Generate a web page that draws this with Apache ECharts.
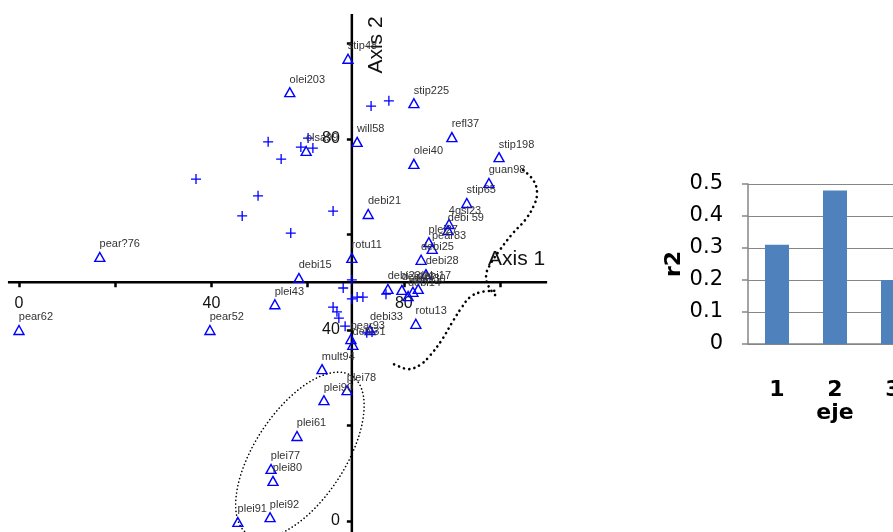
<!DOCTYPE html>
<html>
<head>
<meta charset="utf-8">
<script src="https://cdn.jsdelivr.net/npm/echarts@6/dist/echarts.min.js"></script>
<style>
html,body{margin:0;padding:0;background:#fff;}
#chart{width:893px;height:532px;}
</style>
</head>
<body>
<div id="chart"></div>
<script>
// Site scores (triangles) on ordination axes 1 and 2
const siteNames = [
  'stip48','olei203','stip225','will58','refl37','olsa99','olei40','stip198','guan98','stip65',
  'debi21','4gsl23','debi 59','plei27','pear83','debi25','debi28','pear?76','rotu11','debi15',
  'debi22','debi26','debi17','debi30','debi14','plei43','rotu13','debi33','pear62','pear52',
  'pear93','debi31','mult94','plei78','plei90','plei61','plei77','plei80','plei91','plei92'
];
const siteAxis1 = [
  68.4, 56.3, 82.1, 70.3, 90.0, 59.7, 82.1, 99.8, 97.7, 93.1,
  72.6, 89.4, 89.2, 85.2, 85.9, 83.6, 84.6, 16.8, 69.2, 58.2,
  76.7, 79.6, 83.0, 81.9, 80.9, 53.2, 82.5, 73.0, 0.0, 39.7,
  69.0, 69.4, 63.0, 68.2, 63.4, 57.8, 52.4, 52.8, 45.5, 52.2
];
const siteAxis2 = [
  96.8, 89.8, 87.5, 79.4, 80.4, 77.5, 74.8, 76.2, 70.8, 66.6,
  64.3, 62.2, 60.9, 58.4, 57.0, 54.7, 51.7, 55.3, 55.1, 50.9,
  48.6, 48.4, 48.6, 48.0, 47.1, 45.4, 41.3, 40.0, 40.0, 40.0,
  38.1, 36.9, 31.8, 27.4, 25.3, 17.8, 10.9, 8.4, -0.2, 0.8
];

// Species scores (crosses)
const sppAxis1 = [
  73.2, 76.9, 51.8, 54.5, 36.8, 49.7, 46.4, 56.5, 65.3, 60.1,
  58.6, 61.1, 69.2, 67.4, 70.3, 71.5, 69.2, 76.3, 65.3, 66.1,
  66.5, 67.8, 72.3, 73.4
];
const sppAxis2 = [
  86.9, 88.0, 79.4, 75.8, 71.6, 68.1, 63.9, 60.3, 64.9, 80.2,
  78.3, 78.1, 50.5, 48.8, 46.9, 46.9, 46.5, 47.5, 44.8, 43.8,
  42.5, 40.8, 39.4, 39.6
];

// Tick positions and labelled ticks on both ordination axes
const axisTicks = [0, 20, 40, 60, 80, 100];
const axisTickLabels = [0, 40, 80];
// Drawn range of each axis
const axis1Range = [-3, 110];
const axis2Range = [0, 100];
// Where the two ordination axes cross, and how far each axis line runs
const axisCross = [69.2, 50];
const axis1Extent = [-2.3, 109.8];
const axis2Extent = [-3, 106.2];

// Hand-drawn outline around the stip/debi group (two strokes)
const curveUpper = [
  [104.8,73.5],[106.9,71.4],[107.7,68.7],[107.1,66.2],[105.2,63.0],[102.7,60.3],
  [100.0,56.8],[97.9,53.6],[97.1,51.3],[97.7,49.0],[99.2,47.1]
];
const curveLower = [
  [98.8,48.2],[96.3,48.0],[93.8,46.9],[92.1,44.8],[90.0,41.5],[87.9,37.9],
  [85.4,34.6],[83.4,32.7],[80.9,31.8],[79.2,32.3],[77.8,32.9]
];
// Ellipse around the plei group: centre, semi-axes, tilt (degrees)
const pleiCentre = [58.4, 13.8];
const pleiSemiAxes = [19.8, 9.4];
const pleiTilt = 57;

// Inset: r2 explained by each ordination axis
const ejeCats = ['1', '2', '3'];
const r2Values = [0.31, 0.48, 0.20];

// ---- layout of the ordination panel ----
const pxPerUnitX = 4.81;
const originPx = 19;
const g0 = {
  left: originPx + axis1Range[0] * pxPerUnitX,
  top: 43.5,
  width: (axis1Range[1] - axis1Range[0]) * pxPerUnitX,
  height: 477.5
};
const xAxisOffset = -((axisCross[1] - axis2Range[0]) / (axis2Range[1] - axis2Range[0])) * g0.height;
const yAxisOffset = -((axisCross[0] - axis1Range[0]) / (axis1Range[1] - axis1Range[0])) * g0.width;

const BLUE = '#0000ff';
const labelFont = '"Liberation Sans", Arial, sans-serif';

const siteData = siteNames.map((n, i) => ({ name: n, value: [siteAxis1[i], siteAxis2[i]] }));
const sppData = sppAxis1.map((x, i) => [x, sppAxis2[i]]);

const ellipsePts = [];
{
  const t = pleiTilt * Math.PI / 180;
  for (let k = 0; k <= 120; k++) {
    const a = k / 120 * Math.PI * 2;
    const ex = pleiSemiAxes[0] * Math.cos(a), ey = pleiSemiAxes[1] * Math.sin(a);
    ellipsePts.push([pleiCentre[0] + ex * Math.cos(t) - ey * Math.sin(t),
                     pleiCentre[1] + ex * Math.sin(t) + ey * Math.cos(t)]);
  }
}

const tickFmt = v => String(v);

const chart = echarts.init(document.getElementById('chart'), null, { renderer: 'canvas' });
chart.setOption({
  backgroundColor: '#fff',
  animation: false,
  grid: [
    Object.assign({ containLabel: false, outerBoundsMode: 'none' }, g0),
    { left: 748, top: 184, width: 174, height: 160, containLabel: false, outerBoundsMode: 'none' }
  ],
  xAxis: [
    {
      gridIndex: 0, type: 'value', min: axis1Range[0], max: axis1Range[1],
      position: 'bottom', offset: xAxisOffset,
      axisLine: { show: false },
      axisTick: { show: true, length: 5, customValues: axisTicks, lineStyle: { color: '#000', width: 2.5 } },
      axisLabel: { customValues: axisTickLabels, formatter: tickFmt, fontSize: 16, color: '#111', margin: 13, fontFamily: labelFont },
      splitLine: { show: false }
    },
    {
      gridIndex: 1, type: 'category', data: ejeCats,
      axisLine: { show: true, lineStyle: { color: '#868686', width: 1.5 } },
      axisTick: { show: false },
      axisLabel: { fontSize: 22, fontWeight: 'bold', color: '#000', margin: 35, fontFamily: '"DejaVu Sans", sans-serif' },
      name: 'eje', nameLocation: 'middle', nameGap: 55,
      nameTextStyle: { fontSize: 22, fontWeight: 'bold', color: '#000', fontFamily: '"DejaVu Sans", sans-serif' },
      splitLine: { show: false }
    }
  ],
  yAxis: [
    {
      gridIndex: 0, type: 'value', min: axis2Range[0], max: axis2Range[1],
      position: 'left', offset: yAxisOffset,
      axisLine: { show: false },
      axisTick: { show: true, length: 5, customValues: axisTicks, lineStyle: { color: '#000', width: 2.5 } },
      axisLabel: { customValues: axisTickLabels, formatter: tickFmt, fontSize: 16, color: '#111', margin: 12, fontFamily: labelFont },
      splitLine: { show: false }
    },
    {
      gridIndex: 1, type: 'value', min: 0, max: 0.5, interval: 0.1,
      axisLine: { show: true, lineStyle: { color: '#868686', width: 1.5 } },
      axisTick: { show: true, length: 6, lineStyle: { color: '#868686', width: 1.5 } },
      axisLabel: { fontSize: 21, color: '#000', margin: 25, fontFamily: '"DejaVu Sans", sans-serif' },
      splitLine: { show: true, lineStyle: { color: '#868686', width: 1.2 } },
      name: 'r2', nameLocation: 'middle', nameRotate: 90, nameGap: 50,
      nameTextStyle: { fontSize: 22, fontWeight: 'bold', color: '#000', fontFamily: '"DejaVu Sans", sans-serif' }
    }
  ],
  graphic: [
    { type: 'text', left: 488, top: 249, silent: true,
      style: { text: 'Axis 1', fontSize: 21, fill: '#111', fontFamily: labelFont } },
    { type: 'text', x: 376, y: 45, rotation: Math.PI / 2, silent: true,
      style: { text: 'Axis 2', fontSize: 21, fill: '#111', fontFamily: labelFont, align: 'center', verticalAlign: 'middle' } }
  ],
  series: [
    { type: 'line', xAxisIndex: 0, yAxisIndex: 0, clip: false, silent: true, symbol: 'none', z: 1,
      data: [[axis1Extent[0], axisCross[1]], [axis1Extent[1], axisCross[1]]],
      lineStyle: { color: '#000', width: 2.5 } },
    { type: 'line', xAxisIndex: 0, yAxisIndex: 0, clip: false, silent: true, symbol: 'none', z: 1,
      data: [[axisCross[0], axis2Extent[1]], [axisCross[0], axis2Extent[0]]],
      lineStyle: { color: '#000', width: 2.5 } },
    { type: 'line', xAxisIndex: 0, yAxisIndex: 0, clip: false, silent: true, symbol: 'none', z: 1,
      data: ellipsePts,
      lineStyle: { color: '#000', width: 1.6, type: [0.1, 3.6], cap: 'round' } },
    { type: 'line', xAxisIndex: 0, yAxisIndex: 0, clip: false, silent: true, symbol: 'none', z: 1,
      smooth: 0.4, data: curveUpper,
      lineStyle: { color: '#000', width: 2.6, type: [0.1, 5.2], cap: 'round' } },
    { type: 'line', xAxisIndex: 0, yAxisIndex: 0, clip: false, silent: true, symbol: 'none', z: 1,
      smooth: 0.4, data: curveLower,
      lineStyle: { color: '#000', width: 2.6, type: [0.1, 5.2], cap: 'round' } },
    { type: 'scatter', xAxisIndex: 0, yAxisIndex: 0, clip: false, silent: true, z: 3,
      symbol: 'path://M0,4.35H10V5.65H0Z M4.35,0H5.65V10H4.35Z', symbolSize: 10,
      itemStyle: { color: BLUE, opacity: 1 },
      data: sppData },
    { type: 'scatter', xAxisIndex: 0, yAxisIndex: 0, clip: false, silent: true, z: 4,
      symbol: 'triangle', symbolSize: [10, 9],
      itemStyle: { color: 'rgba(255,255,255,0)', borderColor: BLUE, borderWidth: 1.4, opacity: 1 },
      label: { show: true, formatter: '{b}', position: [5.5, -7.5], align: 'left', verticalAlign: 'middle',
               fontSize: 11, color: '#333', fontFamily: labelFont },
      labelLayout: { hideOverlap: false },
      data: siteData },
    { type: 'bar', xAxisIndex: 1, yAxisIndex: 1, barWidth: 24, silent: true,
      itemStyle: { color: '#4F81BD' }, data: r2Values }
  ]
});
</script>
</body>
</html>
